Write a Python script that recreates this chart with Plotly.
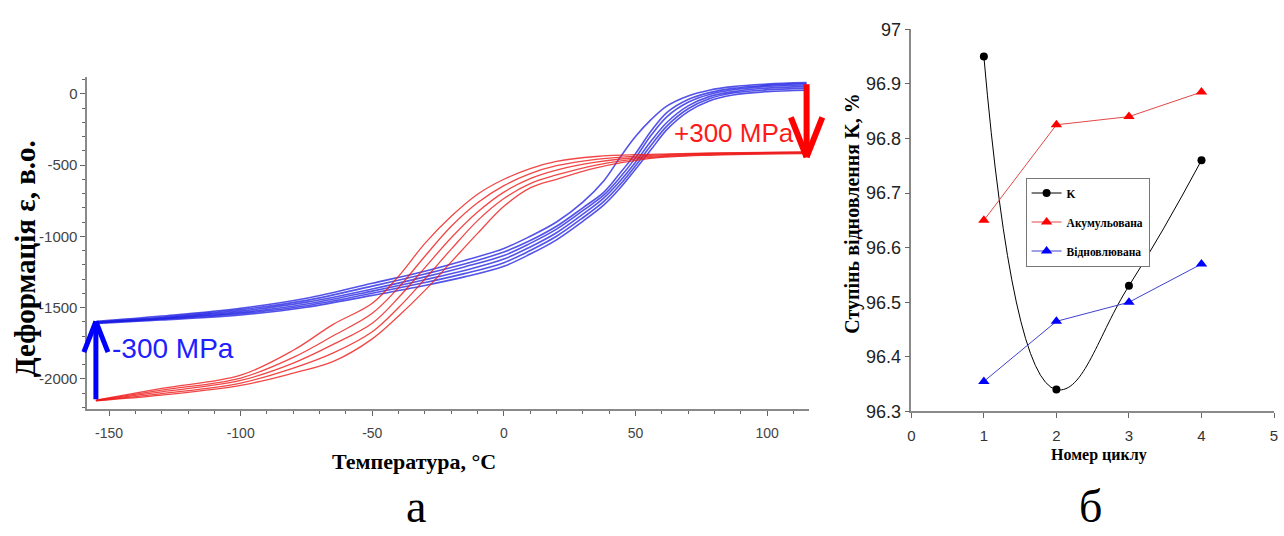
import plotly.graph_objects as go

# ---------------- Panel (a): strain vs temperature loops ----------------
# heating branches (+300 MPa), one list per thermal cycle
T_HEAT = [-155, -130, -100, -80, -65, -50, -40, -30, -20, -10, 0, 10, 20, 35, 55, 80, 115]
HEAT_CYCLES = [
    [-2150, -2068, -1975, -1800, -1620, -1470, -1280, -1050, -860, -705, -600, -525, -475, -440, -425, -415, -408],
    [-2152, -2080, -1995, -1850, -1700, -1540, -1360, -1140, -930, -765, -645, -560, -505, -460, -432, -418, -410],
    [-2153, -2092, -2012, -1890, -1760, -1610, -1430, -1220, -1010, -830, -690, -595, -535, -480, -440, -422, -413],
    [-2154, -2104, -2030, -1925, -1820, -1670, -1500, -1300, -1090, -890, -735, -630, -570, -500, -448, -426, -416],
    [-2155, -2115, -2047, -1960, -1880, -1720, -1560, -1380, -1180, -980, -790, -660, -600, -520, -455, -430, -420],
]

# cooling branches (-300 MPa), one list per thermal cycle
T_COOL = [115, 100, 87, 78, 70, 62, 56, 50, 44, 38, 30, 20, 10, 0, -15, -30, -50, -75, -100, -130, -155]
COOL_CYCLES = [
    [78, 68, 50, 25, -15, -85, -180, -300, -450, -610, -760, -900, -1000, -1085, -1170, -1245, -1330, -1435, -1505, -1560, -1598],
    [70, 60, 38, 8, -40, -130, -260, -420, -560, -690, -800, -930, -1030, -1110, -1195, -1265, -1350, -1450, -1515, -1568, -1600],
    [62, 52, 28, -5, -60, -160, -290, -450, -590, -710, -820, -950, -1050, -1135, -1215, -1285, -1370, -1462, -1525, -1573, -1603],
    [50, 40, 15, -20, -85, -200, -330, -480, -615, -730, -845, -975, -1075, -1160, -1240, -1305, -1385, -1475, -1535, -1578, -1606],
    [38, 28, 5, -35, -105, -225, -360, -505, -640, -755, -870, -1000, -1100, -1185, -1262, -1325, -1400, -1487, -1543, -1582, -1608],
    [25, 15, -8, -50, -125, -250, -390, -530, -665, -780, -895, -1025, -1125, -1210, -1285, -1345, -1415, -1498, -1552, -1588, -1612],
]

T_TICKS = [-150, -100, -50, 0, 50, 100]
T_TICK_LABELS = ["-150", "-100", "-50", "0", "50", "100"]
EPS_TICKS = [0, -500, -1000, -1500, -2000]
EPS_TICK_LABELS = ["0", "-500", "-1000", "-1500", "-2000"]

# ---------------- Panel (б): recovery degree per cycle ----------------
CYCLE_NO = [1, 2, 3, 4]
K_RATIO = [96.95, 96.34, 96.53, 96.76]
K_ACCUM = [96.65, 96.825, 96.84, 96.885]
K_RECOV = [96.355, 96.465, 96.50, 96.57]
SERIES_NAMES = ["K", "Акумульована", "Відновлювана"]

W, H = 1284, 536
SANS = "Liberation Sans, Arial, sans-serif"
SERIF = "Liberation Serif, Times New Roman, serif"

fig = go.Figure()

for eps in COOL_CYCLES:
    fig.add_trace(go.Scatter(
        x=T_COOL, y=eps, mode="lines", xaxis="x", yaxis="y",
        line=dict(color="rgba(25,25,225,0.75)", width=1.6, shape="spline", smoothing=1.0),
        showlegend=False, hoverinfo="skip"))

for eps in HEAT_CYCLES:
    fig.add_trace(go.Scatter(
        x=T_HEAT, y=eps, mode="lines", xaxis="x", yaxis="y",
        line=dict(color="rgba(238,25,25,0.8)", width=1.3, shape="spline", smoothing=1.0),
        showlegend=False, hoverinfo="skip"))

# right panel series
fig.add_trace(go.Scatter(
    x=CYCLE_NO, y=K_RATIO, name=SERIES_NAMES[0], mode="lines+markers", xaxis="x2", yaxis="y2",
    line=dict(color="black", width=1, shape="spline", smoothing=1.3),
    marker=dict(symbol="circle", size=8, color="black"), legendgroup="a"))
fig.add_trace(go.Scatter(
    x=CYCLE_NO, y=K_ACCUM, name=SERIES_NAMES[1], mode="lines+markers", xaxis="x2", yaxis="y2",
    line=dict(color="#e04848", width=1),
    marker=dict(symbol="triangle-up", size=10, color="#ff0000"), legendgroup="b"))
fig.add_trace(go.Scatter(
    x=CYCLE_NO, y=K_RECOV, name=SERIES_NAMES[2], mode="lines+markers", xaxis="x2", yaxis="y2",
    line=dict(color="#4040d0", width=1),
    marker=dict(symbol="triangle-up", size=10, color="#0000ff"), legendgroup="c"))

# ---- load-switch arrows at the two ends of the loop ----
annotations = []


def arrow_line(x0, y0, x1, y1, color, width):
    # straight segment from (x0, y0) to (x1, y1) in data coordinates
    annotations.append(dict(
        x=x1, y=y1, ax=x0, ay=y0, xref="x", yref="y", axref="x", ayref="y",
        text="", showarrow=True, arrowhead=0, arrowwidth=width, arrowcolor=color))


# blue: jump up at the cold end (start of heating -> start of cooling plateau)
bx = T_HEAT[0]
b_low = min(c[0] for c in HEAT_CYCLES)
b_high = max(c[-1] for c in COOL_CYCLES)
arrow_line(bx, b_low, bx, b_high, "#0000ff", 5)
arrow_line(bx - 4.8, b_high - 225, bx, b_high, "#0000ff", 5)
arrow_line(bx + 4.8, b_high - 225, bx, b_high, "#0000ff", 5)

# red: drop at the hot end (end of cooling start -> end of heating)
rx = T_COOL[0]
r_high = max(c[0] for c in COOL_CYCLES)
r_low = min(c[-1] for c in HEAT_CYCLES) - 25
arrow_line(rx, r_high, rx, r_low, "#ff0000", 6)
arrow_line(rx - 6.2, r_low + 290, rx, r_low, "#ff0000", 6)
arrow_line(rx + 6.2, r_low + 290, rx, r_low, "#ff0000", 6)


def paper_text(text, px, py, size, color="black", family=SERIF, angle=0):
    annotations.append(dict(
        text=text, x=px / W, y=1 - py / H, xref="paper", yref="paper",
        showarrow=False, textangle=angle, xanchor="center", yanchor="middle",
        font=dict(family=family, size=size, color=color)))


paper_text("+300 MPa", 735, 128, 26, "#ff1a1a", SANS)
paper_text("-300 MPa", 170, 352, 28, "#2020ff", SANS)
paper_text("<b>Деформація ε, в.о.</b>", 22, 258, 29, angle=-90)
paper_text("<b>Температура, °С</b>", 413, 469, 22)
paper_text("а", 415, 516, 46)
paper_text("<b>Ступінь відновлення K, %</b>", 853, 212, 20, angle=-90)
paper_text("<b>Номер циклу</b>", 1102, 462, 16)
paper_text("б", 1093, 516, 46)

axis_common = dict(showgrid=False, zeroline=False, showline=True, linecolor="#8a8a8a",
                   ticks="outside", tickcolor="#666", mirror=False)

fig.update_layout(
    width=W, height=H, margin=dict(l=0, r=0, t=0, b=0),
    paper_bgcolor="white", plot_bgcolor="white",
    xaxis=dict(domain=[84 / W, 810 / W], range=[-158.2, 115.9], anchor="y",
               tickmode="array", tickvals=T_TICKS, ticktext=T_TICK_LABELS,
               ticklen=5, linewidth=2, ticklabelstandoff=6,
               minor=dict(dtick=10, tick0=0, ticklen=3, tickcolor="#666", ticks="outside"),
               tickfont=dict(family=SANS, size=14, color="#444"), **axis_common),
    yaxis=dict(domain=[122 / H, 466 / H], range=[-2209, 115], anchor="x",
               tickmode="array", tickvals=EPS_TICKS, ticktext=EPS_TICK_LABELS,
               ticklen=5, linewidth=2,
               minor=dict(dtick=100, tick0=0, ticklen=3, tickcolor="#666", ticks="outside"),
               tickfont=dict(family=SANS, size=15, color="#444"), **axis_common),
    xaxis2=dict(domain=[913 / W, 1278 / W], range=[0, 5], anchor="y2",
                dtick=1, tick0=0, ticklen=5, linewidth=1.5, ticklabelstandoff=5,
                tickfont=dict(family=SANS, size=15, color="#333"), **axis_common),
    yaxis2=dict(domain=[119 / H, 516 / H], range=[96.3, 97.0], anchor="x2",
                dtick=0.1, tick0=96.3, ticklen=5, linewidth=1.5,
                tickfont=dict(family=SANS, size=18, color="#222"), **axis_common),
    legend=dict(x=1028 / W, y=1 - 174 / H, xanchor="left", yanchor="top",
                bgcolor="white", bordercolor="#777", borderwidth=1,
                traceorder="grouped", tracegroupgap=10,
                font=dict(family=SERIF, size=11.5, color="black", weight="bold")),
    annotations=annotations,
    showlegend=True,
)

fig.write_html("out.html")
